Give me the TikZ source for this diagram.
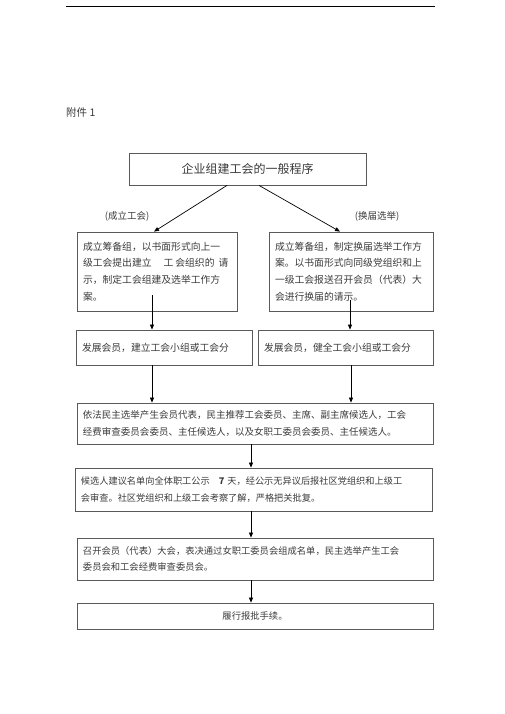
\documentclass[tikz,border=0pt]{standalone}
\usepackage{fontspec}
\setmainfont{Noto Sans CJK SC}
\usetikzlibrary{arrows.meta}
\definecolor{txt}{HTML}{3A3A3A}
\definecolor{frame}{HTML}{5A5A5A}
\tikzset{
  flowbox/.style={draw=frame, line width=0.8bp, rectangle, inner xsep=6bp, inner ysep=0pt,
    align=left, text=txt, font=\fontsize{9.8bp}{16.7bp}\selectfont},
  arr/.style={draw=black, line width=0.7bp, -{Triangle[length=5bp,width=4bp]}},
  lbl/.style={text=txt, inner sep=0pt, font=\fontsize{9.5bp}{12bp}\selectfont}
}
\begin{document}
\begin{tikzpicture}[x=1bp,y=-1bp]
\useasboundingbox (0,0) rectangle (505,714);
\coordinate (hl) at (66,7);
\coordinate (hr) at (435,7);
\draw[line width=1bp] (hl) -- (hr);
\node[lbl, anchor=west, font=\fontsize{10.5bp}{12bp}\selectfont] (att) at (66,113) {附件 1};

\node[flowbox, align=center, minimum width=237bp, minimum height=32bp, font=\fontsize{12bp}{14bp}\selectfont] (title) at (247.5,169) {企业组建工会的一般程序};

\node[lbl] (la) at (127,216) {(成立工会)};
\node[lbl] (lb) at (377,216) {(换届选举)};

\node[flowbox, text width=148bp, minimum height=79bp] (L2) at (157,271.5)
  {成立筹备组，以书面形式向上一\\\makebox[148bp][l]{级工会提出建立\hspace{12bp}工\hspace{2bp}会组织的\hspace{4bp}请}\\示，制定工会组建及选举工作方\\案。};
\node[flowbox, text width=152bp, minimum height=79bp] (R2) at (351,271.5)
  {成立筹备组，制定换届选举工作方\\案。以书面形式向同级党组织和上\\一级工会报送召开会员（代表）大\\会进行换届的请示。};

\node[flowbox, text width=164bp, minimum height=35bp] (L3) at (164,347.5)
  {发展会员，建立工会小组或工会分};
\node[flowbox, text width=163bp, minimum height=35bp] (R3) at (345.5,347.5)
  {发展会员，健全工会小组或工会分};

\node[flowbox, text width=344bp, minimum height=41bp, font=\fontsize{9.5bp}{16.5bp}\selectfont] (B4) at (255,423.5)
  {依法民主选举产生会员代表，民主推荐工会委员、主席、副主席候选人，工会\\经费审查委员会委员、主任候选人，以及女职工委员会委员、主任候选人。};
\node[flowbox, text width=345bp, minimum height=43bp, font=\fontsize{9.2bp}{16.5bp}\selectfont] (B5) at (253.5,489.5)
  {候选人建议名单向全体职工公示\hspace{9bp}\textbf{7}\hspace{3bp}天，经公示无异议后报社区党组织和上级工\\会审查。社区党组织和上级工会考察了解，严格把关批复。};
\node[flowbox, text width=344bp, minimum height=42bp, font=\fontsize{9.3bp}{16.5bp}\selectfont] (B6) at (255,559)
  {召开会员（代表）大会，表决通过女职工委员会组成名单，民主选举产生工会\\委员会和工会经费审查委员会。};
\node[flowbox, align=center, text width=344bp, minimum height=26bp, font=\fontsize{9.3bp}{12bp}\selectfont] (B7) at (255,616)
  {履行报批手续。};

\draw[arr] ([xshift=-20.5bp]title.south) -- ([xshift=-3bp]L2.north);
\draw[arr] ([xshift=11.5bp]title.south) -- ([xshift=-11bp]R2.north);
\draw[arr] ([xshift=-5bp,yshift=16bp]L2.south) -- ([xshift=-5bp]L2.south |- L3.north);
\draw[arr] ([xshift=-1bp,yshift=11bp]R2.south) -- ([xshift=-1bp]R2.south |- R3.north);
\draw[arr] ([xshift=-12bp]L3.south) -- ([xshift=-12bp]L3.south |- B4.north);
\draw[arr] ([xshift=5.5bp]R3.south) -- ([xshift=5.5bp]R3.south |- B4.north);
\draw[arr] ([xshift=-4bp]B4.south) -- ([xshift=-4bp]B4.south |- B5.north);
\draw[arr] ([xshift=-2.5bp]B5.south) -- ([xshift=-2.5bp]B5.south |- B6.north);
\draw[arr] ([xshift=-4bp]B6.south) -- ([xshift=-4bp]B6.south |- B7.north);
\end{tikzpicture}
\end{document}
